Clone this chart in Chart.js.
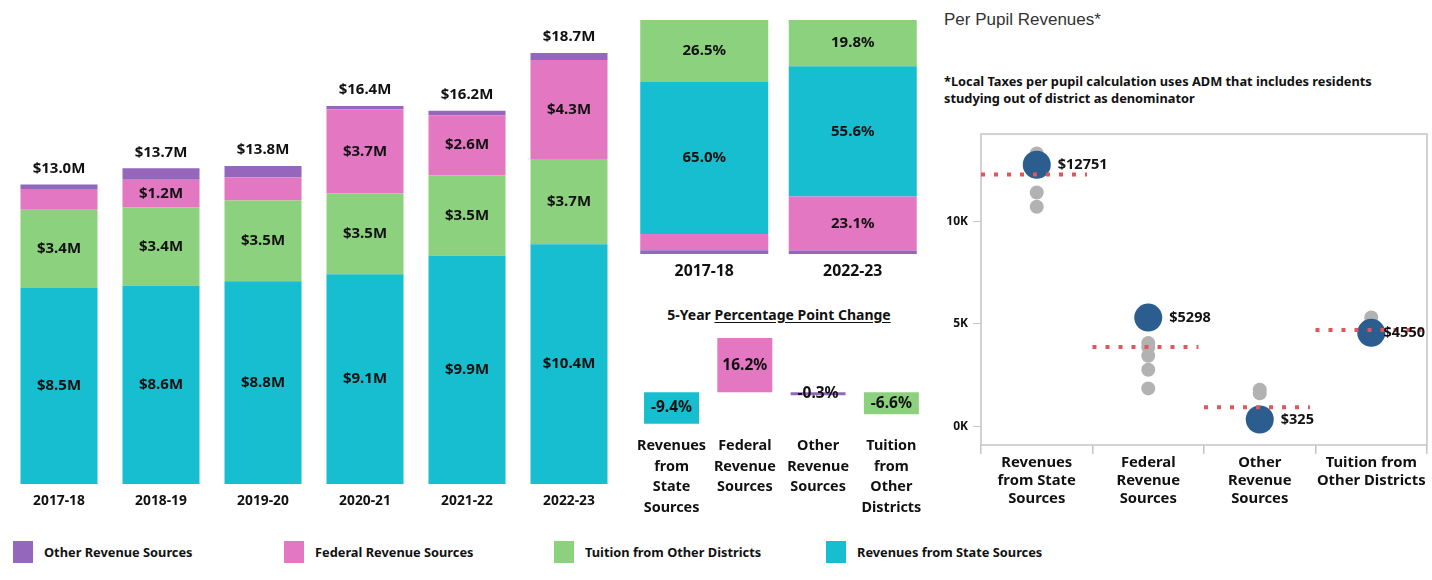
<!DOCTYPE html>
<html>
<head>
<meta charset="utf-8">
<script src="https://cdn.jsdelivr.net/npm/chart.js@4.4.0/dist/chart.umd.min.js"></script>
<style>
  body { margin: 0; width: 1432px; height: 580px; background: #fff; position: relative; overflow: hidden; font-family: "Noto Sans", sans-serif; color: #111; }
  .pane { position: absolute; }
  .title { position: absolute; left: 944px; top: 10px; font: 17px "Liberation Sans", Arial, sans-serif; color: #333; }
  .note { position: absolute; left: 944px; top: 73px; font: bold 12.8px/17px "Noto Sans", sans-serif; color: #111; }
  .chg-title { position: absolute; left: 630px; width: 298px; top: 305px; text-align: center; font: bold 14px "Noto Sans", sans-serif; }
  .chg-title u { text-underline-offset: 2px; }
  .legend-item { position: absolute; top: 541px; height: 22px; display: flex; align-items: center; font: bold 12.8px "Noto Sans", sans-serif; }
  .legend-item span.sw { width: 20px; height: 22px; margin-right: 11px; }
</style>
</head>
<body>
<div class="pane" style="left:0;top:0;width:620px;height:520px"><canvas id="trendChart"></canvas></div>
<div class="pane" style="left:630px;top:0;width:297px;height:290px"><canvas id="shareChart"></canvas></div>
<div class="chg-title">5-Year <u>Percentage Point Change</u></div>
<div class="pane" style="left:630px;top:332px;width:298px;height:190px"><canvas id="changeChart"></canvas></div>
<div class="title">Per Pupil Revenues*</div>
<div class="note">*Local Taxes per pupil calculation uses ADM that includes residents<br>studying out of district as denominator</div>
<div class="pane" style="left:940px;top:120px;width:501px;height:400px"><canvas id="pupilChart"></canvas></div>
<div id="legend"></div>

<script>
// revenue by year, $M
const years = ["2017-18", "2018-19", "2019-20", "2020-21", "2021-22", "2022-23"];
const stateRev = [8.5, 8.6, 8.8, 9.1, 9.9, 10.4];
const tuitionRev = [3.4, 3.4, 3.5, 3.5, 3.5, 3.7];
const federalRev = [0.9, 1.2, 1.0, 3.66, 2.6, 4.3];
const otherRev = [0.2, 0.5, 0.5, 0.14, 0.2, 0.3];

// share of total, %
const shareYears = ["2017-18", "2022-23"];
const shareState = [65.0, 55.6];
const shareTuition = [26.5, 19.8];
const shareFederal = [6.9, 23.1];
const shareOther = [1.6, 1.5];

// 5-year percentage point change
const changeCats = [["Revenues", "from", "State", "Sources"], ["Federal", "Revenue", "Sources"], ["Other", "Revenue", "Sources"], ["Tuition", "from", "Other", "Districts"]];
const changeValues = [-9.4, 16.2, -0.3, -6.6];

// per pupil revenues
const pupilCats = [["Revenues", "from State", "Sources"], ["Federal", "Revenue", "Sources"], ["Other", "Revenue", "Sources"], ["Tuition from", "Other Districts"]];
const pupilValues = [12751, 5298, 325, 4550];
const pupilAvg = [12270, 3860, 920, 4690];
const peerState = [13300, 12900, 11400, 10700];
const peerFederal = [5500, 4050, 3860, 3430, 2750, 1840];
const peerOther = [1780, 1600, 450];
const peerTuition = [5300];
const pupilTicks = [0, 5000, 10000];

const COLORS = { other: "#9467bd", federal: "#e377c2", tuition: "#8cd17d", state: "#17becf" };
const legendItems = [
  ["Other Revenue Sources", COLORS.other, 13],
  ["Federal Revenue Sources", COLORS.federal, 284],
  ["Tuition from Other Districts", COLORS.tuition, 554],
  ["Revenues from State Sources", COLORS.state, 826],
];

Chart.defaults.font.family = '"Noto Sans", sans-serif';
Chart.defaults.color = "#111";
Chart.defaults.animation = false;

const legendEl = document.getElementById("legend");
legendItems.forEach(([name, color, left]) => {
  const d = document.createElement("div");
  d.className = "legend-item";
  d.style.left = left + "px";
  d.innerHTML = '<span class="sw" style="background:' + color + '"></span>' + name;
  legendEl.appendChild(d);
});

// draws value text in the middle of each bar segment
function segLabels(font, fmt, show, totalFmt) {
  return {
    id: "segLabels",
    afterDatasetsDraw(chart) {
      const ctx = chart.ctx;
      ctx.save();
      ctx.font = font;
      ctx.fillStyle = "#111";
      ctx.textAlign = "center";
      ctx.textBaseline = "middle";
      chart.data.datasets.forEach((ds, di) => {
        chart.getDatasetMeta(di).data.forEach((bar, i) => {
          const v = ds.data[i];
          if (!show(v)) return;
          const p = bar.getProps(["x", "y", "base"], true);
          ctx.fillText(fmt(v), p.x, (p.y + p.base) / 2);
        });
      });
      if (totalFmt) {
        const last = chart.getDatasetMeta(chart.data.datasets.length - 1);
        last.data.forEach((bar, i) => {
          const total = chart.data.datasets.reduce((s, ds) => s + ds.data[i], 0);
          ctx.fillText(totalFmt(total), bar.x, bar.y - 16);
        });
      }
      ctx.restore();
    }
  };
}

const trendCanvas = document.getElementById("trendChart");
if (trendCanvas?.getContext && window.Chart) {
  new Chart(trendCanvas.getContext("2d"), {
    type: "bar",
    data: {
      labels: years,
      datasets: [
        { label: "Revenues from State Sources", data: stateRev, backgroundColor: COLORS.state },
        { label: "Tuition from Other Districts", data: tuitionRev, backgroundColor: COLORS.tuition },
        { label: "Federal Revenue Sources", data: federalRev, backgroundColor: COLORS.federal },
        { label: "Other Revenue Sources", data: otherRev, backgroundColor: COLORS.other },
      ]
    },
    options: {
      responsive: true, maintainAspectRatio: false,
      layout: { padding: { left: 8, right: 0, top: 0, bottom: 0 } },
      datasets: { bar: { barPercentage: 0.755, categoryPercentage: 1 } },
      plugins: { legend: { display: false }, tooltip: { enabled: false } },
      scales: {
        x: { stacked: true, grid: { display: false, drawTicks: false }, border: { display: false },
             ticks: { padding: 9, maxRotation: 0, font: { size: 13.8, weight: "bold" } },
             afterFit: (s) => { s.height = 36; } },
        y: { stacked: true, display: false, min: 0, max: 21 }
      }
    },
    plugins: [segLabels("bold 15px 'Noto Sans'", (v) => "$" + v.toFixed(1) + "M", (v) => v >= 1.1, (t) => "$" + t.toFixed(1) + "M")]
  });
}

const shareCanvas = document.getElementById("shareChart");
if (shareCanvas?.getContext && window.Chart) {
  new Chart(shareCanvas.getContext("2d"), {
    type: "bar",
    data: {
      labels: shareYears,
      datasets: [
        { label: "Other Revenue Sources", data: shareOther, backgroundColor: COLORS.other },
        { label: "Federal Revenue Sources", data: shareFederal, backgroundColor: COLORS.federal },
        { label: "Revenues from State Sources", data: shareState, backgroundColor: COLORS.state },
        { label: "Tuition from Other Districts", data: shareTuition, backgroundColor: COLORS.tuition },
      ]
    },
    options: {
      responsive: true, maintainAspectRatio: false,
      layout: { padding: { top: 20 } },
      datasets: { bar: { barPercentage: 0.862, categoryPercentage: 1 } },
      plugins: { legend: { display: false }, tooltip: { enabled: false } },
      scales: {
        x: { stacked: true, grid: { display: false, drawTicks: false }, border: { display: false },
             ticks: { padding: 8, maxRotation: 0, font: { size: 15.8, weight: "bold" } },
             afterFit: (s) => { s.height = 36; } },
        y: { stacked: true, display: false, min: 0, max: 100 }
      }
    },
    plugins: [segLabels("bold 15px 'Noto Sans'", (v) => v.toFixed(1) + "%", (v) => v >= 10)]
  });
}

const changeCanvas = document.getElementById("changeChart");
if (changeCanvas?.getContext && window.Chart) {
  new Chart(changeCanvas.getContext("2d"), {
    type: "bar",
    data: {
      labels: changeCats,
      datasets: [{ data: changeValues, backgroundColor: [COLORS.state, COLORS.federal, COLORS.other, COLORS.tuition], minBarLength: 3 }]
    },
    options: {
      responsive: true, maintainAspectRatio: false,
      datasets: { bar: { barPercentage: 0.75, categoryPercentage: 1 } },
      plugins: { legend: { display: false }, tooltip: { enabled: false } },
      scales: {
        x: { grid: { display: false, drawTicks: false }, border: { display: false },
             ticks: { padding: 7, autoSkip: false, minRotation: 0, maxRotation: 0, font: { size: 14.4, weight: "bold", lineHeight: "20.5px" } },
             afterFit: (s) => { s.height = 93; } },
        y: { display: false, min: -11, max: 18 }
      }
    },
    plugins: [segLabels("bold 15.5px 'Noto Sans'", (v) => v.toFixed(1) + "%", () => true)]
  });
}

// box around the plot area and value labels next to the big dots
const boxPlugin = {
  id: "box",
  beforeDatasetsDraw(chart) {
    const { ctx, chartArea: a } = chart;
    ctx.save();
    ctx.strokeStyle = "#c4c4c4";
    ctx.lineWidth = 1.5;
    ctx.strokeRect(a.left, a.top, a.right - a.left, a.bottom - a.top);
    ctx.restore();
  },
  afterDatasetsDraw(chart) {
    const { ctx, chartArea: a } = chart;
    const meta = chart.getDatasetMeta(4);
    ctx.save();
    ctx.font = "bold 14.5px 'Noto Sans'";
    ctx.fillStyle = "#111";
    ctx.textBaseline = "middle";
    meta.data.forEach((pt, i) => {
      const text = "$" + pupilValues[i];
      const w = ctx.measureText(text).width;
      ctx.fillText(text, Math.min(pt.x + 21, a.right - w - 2), pt.y);
    });
    ctx.restore();
  }
};

const peerPoints = [peerState, peerFederal, peerOther, peerTuition]
  .flatMap((vals, i) => vals.map((v) => ({ x: i + 1, y: v })));
const avgLines = pupilAvg.map((v, i) => ({
  data: [{ x: i + 0.5, y: v }, { x: i + 1.45, y: v }],
  showLine: true, pointRadius: 0, borderColor: "#e15759", borderWidth: 4, borderDash: [4, 9], borderCapStyle: "butt", order: 0
}));

const pupilCanvas = document.getElementById("pupilChart");
if (pupilCanvas?.getContext && window.Chart) {
  new Chart(pupilCanvas.getContext("2d"), {
    type: "scatter",
    data: {
      datasets: [
        ...avgLines,
        { data: pupilValues.map((v, i) => ({ x: i + 1, y: v })), pointRadius: 14, backgroundColor: "#2b5d8f", borderWidth: 0, order: 1 },
        { data: peerPoints, pointRadius: 7, backgroundColor: "#b2b2b2", borderWidth: 0, order: 2 },
      ]
    },
    options: {
      responsive: true, maintainAspectRatio: false,
      layout: { padding: { left: 0, right: 7, top: 11, bottom: 0 } },
      plugins: { legend: { display: false }, tooltip: { enabled: false } },
      scales: {
        x: {
          type: "linear", min: 0.5, max: 4.5,
          afterBuildTicks: (s) => { s.ticks = [0.5, 1, 1.5, 2, 2.5, 3, 3.5, 4, 4.5].map((value) => ({ value })); },
          grid: { drawOnChartArea: false, tickLength: 9, tickColor: (c) => (c.tick && c.tick.value % 1 === 0 ? "rgba(0,0,0,0)" : "#c4c4c4"), lineWidth: 1.5 },
          border: { display: false },
          ticks: { padding: 0, autoSkip: false, maxRotation: 0, font: { size: 14.8, weight: "bold", lineHeight: "18px" },
                   callback: (v) => (v % 1 === 0 ? pupilCats[v - 1] : "") },
          afterFit: (s) => { s.height = 75; }
        },
        y: {
          min: -920, max: 14250,
          afterBuildTicks: (s) => { s.ticks = pupilTicks.map((value) => ({ value })); },
          grid: { drawOnChartArea: false, tickLength: 8, tickColor: "#c4c4c4" },
          border: { display: false },
          ticks: { padding: 5, font: { size: 12, weight: "bold" }, callback: (v) => v / 1000 + "K" },
          afterFit: (s) => { s.width = 41; }
        }
      }
    },
    plugins: [boxPlugin]
  });
}
</script>
</body>
</html>
